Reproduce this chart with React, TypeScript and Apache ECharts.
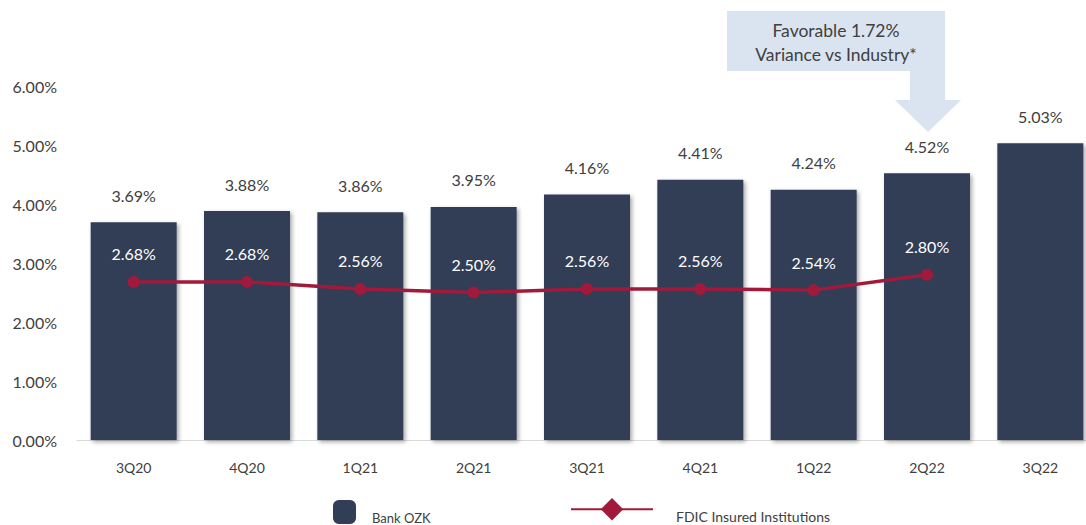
import React, { useEffect, useRef } from "react";
import * as echarts from "echarts";

const categories = ["3Q20", "4Q20", "1Q21", "2Q21", "3Q21", "4Q21", "1Q22", "2Q22", "3Q22"];
const bankOzk = [3.69, 3.88, 3.86, 3.95, 4.16, 4.41, 4.24, 4.52, 5.03];
const fdic: (number | null)[] = [2.68, 2.68, 2.56, 2.5, 2.56, 2.56, 2.54, 2.8, null];
const calloutLines = ["Favorable 1.72%", "Variance vs Industry*"];

const FONT = "Lato, 'Open Sans', sans-serif";
const TEXT = "#404040";
const BAR = "#323E56";
const LINE = "#A11A3B";
const CALLOUT = "#DAE3F0";

export default function App() {
  const ref = useRef<HTMLDivElement>(null);
  useEffect(() => {
    if (!ref.current) return;
    const chart = echarts.init(ref.current, undefined, { renderer: "svg" });
    const pct = (v: number) => v.toFixed(2) + "%";
    chart.setOption({
      animation: false,
      textStyle: { fontFamily: FONT },
      grid: { left: 77, top: 86, right: 3, bottom: 85, containLabel: false },
      xAxis: {
        type: "category",
        data: categories,
        axisTick: { show: false },
        axisLine: { lineStyle: { color: "#D9D9D9", width: 1 } },
        axisLabel: { color: TEXT, fontSize: 14, margin: 20, fontFamily: FONT },
      },
      yAxis: {
        type: "value",
        min: 0,
        max: 6,
        interval: 1,
        splitLine: { show: false },
        axisLine: { show: false },
        axisTick: { show: false },
        axisLabel: { color: TEXT, fontSize: 16, margin: 20, fontFamily: FONT, formatter: (v: number) => pct(v) },
      },
      legend: [
        {
          data: ["Bank OZK"],
          left: 333,
          top: 500,
          padding: 0,
          itemWidth: 23,
          itemHeight: 24,
          formatter: "{a|{name}}",
          textStyle: {
            color: TEXT,
            fontSize: 13,
            fontFamily: FONT,
            rich: { a: { color: TEXT, fontSize: 13, fontFamily: FONT, padding: [12, 0, 0, 11] } },
          },
        },
        {
          data: ["FDIC Insured Institutions"],
          left: 570,
          top: 498,
          padding: 0,
          itemWidth: 82,
          itemHeight: 28,
          formatter: "{a|{name}}",
          textStyle: {
            color: TEXT,
            fontSize: 14,
            fontFamily: FONT,
            rich: { a: { color: TEXT, fontSize: 14, fontFamily: FONT, padding: [14, 0, 0, 18] } },
          },
        },
      ],
      series: [
        {
          name: "Bank OZK",
          type: "bar",
          data: bankOzk,
          barWidth: 86,
          itemStyle: {
            color: BAR,
            shadowBlur: 4,
            shadowColor: "rgba(0,0,0,0.35)",
            shadowOffsetX: 2,
            shadowOffsetY: 2,
          },
          label: {
            show: true,
            position: "top",
            distance: 19,
            color: TEXT,
            fontSize: 16,
            fontFamily: FONT,
            formatter: (p: any) => pct(p.value),
          },
          z: 2,
        },
        {
          name: "FDIC Insured Institutions",
          type: "line",
          data: fdic.map((v) => ({ value: v, symbol: "circle" })),
          symbol: "diamond",
          symbolSize: 12,
          lineStyle: { color: LINE, width: 3.5 },
          itemStyle: { color: LINE },
          connectNulls: false,
          label: {
            show: true,
            position: "top",
            distance: 14,
            color: "#FFFFFF",
            fontSize: 16,
            fontFamily: FONT,
            formatter: (p: any) => (p.value == null ? "" : pct(p.value)),
          },
          z: 3,
        },
      ],
      graphic: [
        {
          type: "rect",
          shape: { x: 727, y: 11, width: 218, height: 60 },
          style: { fill: CALLOUT },
        },
        {
          type: "polygon",
          shape: {
            points: [
              [910, 70],
              [945, 70],
              [945, 100],
              [961, 100],
              [928, 132],
              [895, 100],
              [910, 100],
            ],
          },
          style: { fill: CALLOUT },
        },
        {
          type: "text",
          style: {
            text: calloutLines[0],
            x: 836,
            y: 30,
            align: "center",
            verticalAlign: "middle",
            fill: TEXT,
            fontSize: 17.5,
            fontFamily: FONT,
          },
        },
        {
          type: "text",
          style: {
            text: calloutLines[1],
            x: 836,
            y: 54,
            align: "center",
            verticalAlign: "middle",
            fill: TEXT,
            fontSize: 17.5,
            fontFamily: FONT,
          },
        },
      ],
    });
    return () => chart.dispose();
  }, []);
  return (
    <div style={{ width: 1086, height: 525, position: "absolute", left: 0, top: 0, overflow: "hidden" }}>
      <div ref={ref} style={{ width: 1100, height: 525 }} />
    </div>
  );
}
